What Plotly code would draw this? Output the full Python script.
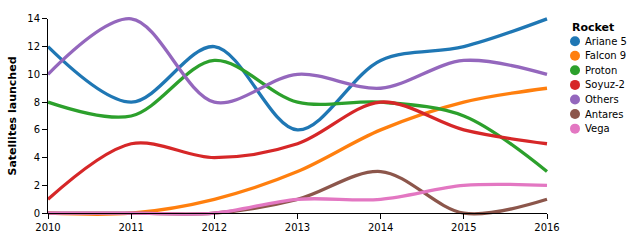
import plotly.graph_objects as go

years = [2010, 2011, 2012, 2013, 2014, 2015, 2016]
rockets = ["Ariane 5", "Falcon 9", "Proton", "Soyuz-2", "Others", "Antares", "Vega"]
ariane5 = [12, 8, 12, 6, 11, 12, 14]
falcon9 = [0, 0, 1, 3, 6, 8, 9]
proton = [8, 7, 11, 8, 8, 7, 3]
soyuz2 = [1, 5, 4, 5, 8, 6, 5]
others = [10, 14, 8, 10, 9, 11, 10]
antares = [0, 0, 0, 1, 3, 0, 1]
vega = [0, 0, 0, 1, 1, 2, 2]
series = [ariane5, falcon9, proton, soyuz2, others, antares, vega]
colors = ["#1f77b4", "#ff7f0e", "#2ca02c", "#d62728", "#9467bd", "#8c564b", "#e377c2"]
yticks = [0, 2, 4, 6, 8, 10, 12, 14]

W, H = 634, 241
L, R, T, B = 48, 547, 14, 214  # visible axis frame in px
PAD = 6
FONT = "DejaVu Sans"

ml, mr, mt, mb = L - PAD, W - R - PAD, T - PAD, H - B - PAD
pw = W - ml - mr
ph = H - mt - mb


def px_x(px):
    return (px - ml) / pw


def px_y(py):
    return (H - mb - py) / ph


fig = go.Figure()
# empty trace so the visible axis pair is drawn
fig.add_trace(go.Scatter(x=[], y=[], xaxis="x2", yaxis="y2", showlegend=False, hoverinfo="skip"))
for name, vals, col in zip(rockets, series, colors):
    fig.add_trace(go.Scatter(x=years, y=vals, mode="lines", name=name,
                             line=dict(color=col, width=3.3, shape="spline", smoothing=0.95),
                             showlegend=False, hoverinfo="x+y+name"))

xspan = years[-1] - years[0]
yspan = yticks[-1] - yticks[0]
xpad = PAD * xspan / (R - L)
ypad = PAD * yspan / (B - T)

fig.update_layout(
    width=W, height=H, autosize=False,
    margin=dict(l=ml, r=mr, t=mt, b=mb, pad=0),
    paper_bgcolor="white", plot_bgcolor="rgba(0,0,0,0)",
    font=dict(family=FONT, size=10, color="black"),
    xaxis=dict(visible=False, range=[years[0] - xpad, years[-1] + xpad], domain=[0, 1]),
    yaxis=dict(visible=False, range=[yticks[0] - ypad, yticks[-1] + ypad], domain=[0, 1]),
    xaxis2=dict(anchor="y2", range=[years[0], years[-1]], domain=[PAD / pw, 1 - PAD / pw],
                tickvals=years, ticktext=[str(y) for y in years], showline=True,
                linecolor="black", linewidth=1, ticks="outside", ticklen=5, tickcolor="black",
                showgrid=False, zeroline=False, tickfont=dict(size=10, family=FONT)),
    yaxis2=dict(anchor="x2", range=[yticks[0], yticks[-1]], domain=[PAD / ph, 1 - PAD / ph],
                tickvals=yticks, showline=True, linecolor="black", linewidth=1,
                ticks="outside", ticklen=5, tickcolor="black", showgrid=False, zeroline=False,
                tickfont=dict(size=10, family=FONT),
                title=dict(text="<b>Satellites launched</b>", font=dict(size=11, family=FONT), standoff=8)),
    showlegend=False,
)

# manual legend
lx = 570
fig.add_annotation(x=px_x(lx), y=px_y(23), xref="paper", yref="paper", text="<b>Rocket</b>",
                   showarrow=False, xanchor="left", yanchor="middle",
                   font=dict(size=11, family=FONT, color="black"))
for i, (name, col) in enumerate(zip(rockets, colors)):
    yc = 37 + i * 15
    fig.add_shape(type="circle", xref="paper", yref="paper", xsizemode="pixel", ysizemode="pixel",
                  xanchor=px_x(lx + 5), yanchor=px_y(yc), x0=-5, x1=5, y0=-5, y1=5,
                  fillcolor=col, line=dict(width=0))
    fig.add_annotation(x=px_x(lx + 13), y=px_y(yc), xref="paper", yref="paper", text=name,
                       showarrow=False, xanchor="left", yanchor="middle",
                       font=dict(size=10, family=FONT, color="black"))

fig.write_html("out.html")
